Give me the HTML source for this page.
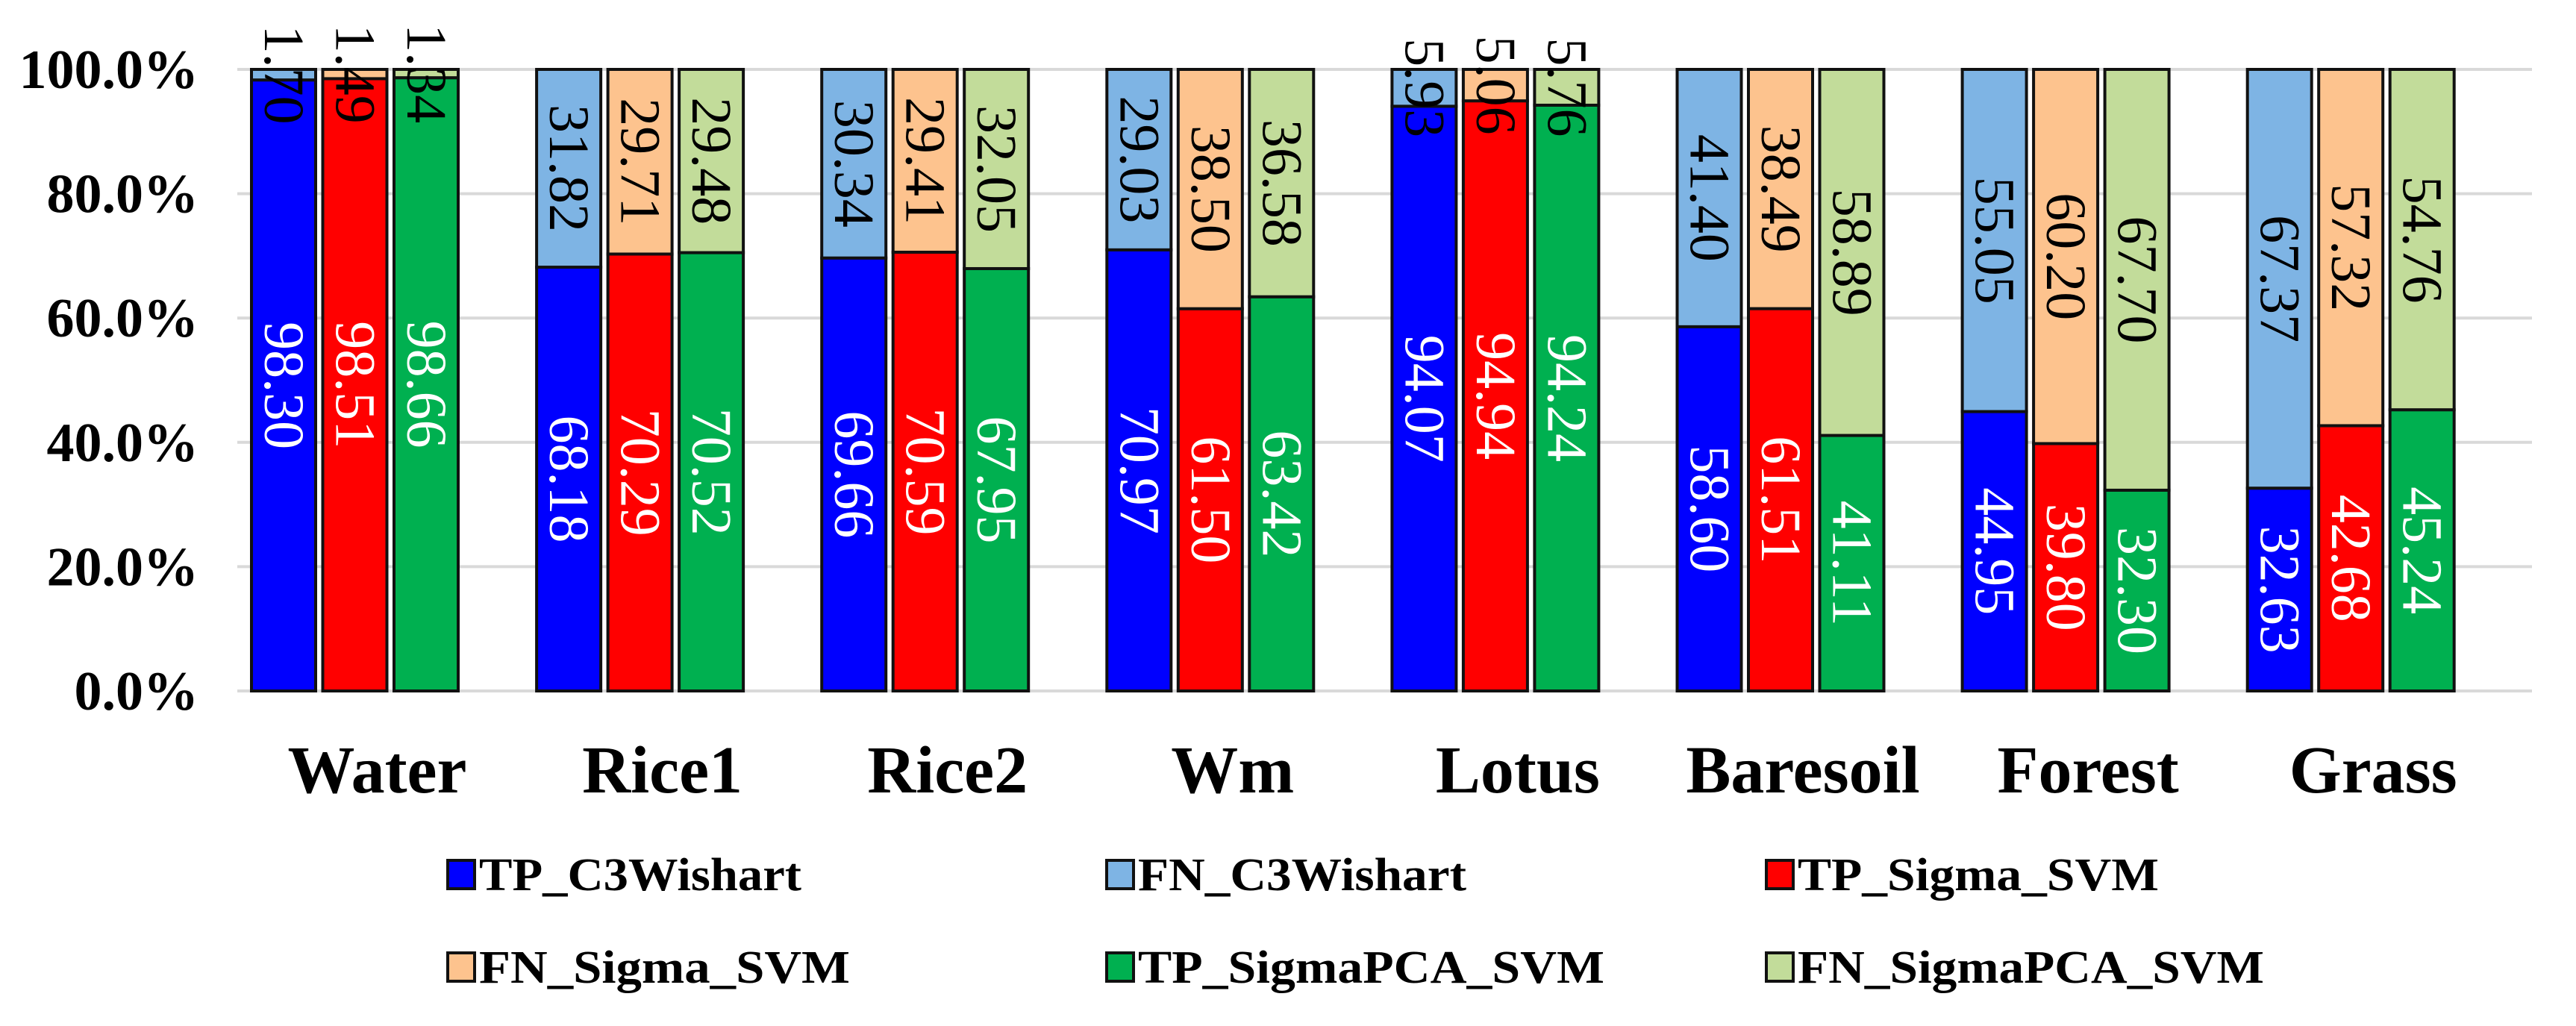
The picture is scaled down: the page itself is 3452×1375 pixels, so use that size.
<!DOCTYPE html>
<html>
<head>
<meta charset="utf-8">
<style>
  html,body{margin:0;padding:0;background:#fff;}
  svg{display:block;}
</style>
</head>
<body>
<svg id="chart" width="3452" height="1375" viewBox="0 0 3452 1375" xmlns="http://www.w3.org/2000/svg"></svg>
<script>
const categories = ["Water","Rice1","Rice2","Wm","Lotus","Baresoil","Forest","Grass"];
const tpC3 = [98.30,68.18,69.66,70.97,94.07,58.60,44.95,32.63];
const fnC3 = [1.70,31.82,30.34,29.03,5.93,41.40,55.05,67.37];
const tpSigma = [98.51,70.29,70.59,61.50,94.94,61.51,39.80,42.68];
const fnSigma = [1.49,29.71,29.41,38.50,5.06,38.49,60.20,57.32];
const tpPCA = [98.66,70.52,67.95,63.42,94.24,41.11,32.30,45.24];
const fnPCA = [1.34,29.48,32.05,36.58,5.76,58.89,67.70,54.76];
const yTicks = [0,20,40,60,80,100];
const tickLabels = ["0.0%","20.0%","40.0%","60.0%","80.0%","100.0%"];
const legendLabels = ["TP_C3Wishart","FN_C3Wishart","TP_Sigma_SVM","FN_Sigma_SVM","TP_SigmaPCA_SVM","FN_SigmaPCA_SVM"];

const NS = "http://www.w3.org/2000/svg";
const svg = document.getElementById("chart");
const Y0 = 926, Y100 = 93;
const y = v => Y0 - (Y100 - Y0) * -v / 100;
const GROUP0 = 337, GROUPSTEP = 382.1, BARW = 86, BARSTEP = 95.5;
const xGroup = i => GROUP0 + i * GROUPSTEP;
const xBar = (i, s) => xGroup(i) + s * BARSTEP;
const serif = '"Liberation Serif", "Times New Roman", serif';

function mk(tag, attrs) {
  const el = document.createElementNS(NS, tag);
  for (const k in attrs) el.setAttribute(k, attrs[k]);
  return el;
}

yTicks.forEach((t, i) => {
  const g = mk("line", {x1: 318, x2: 3393, y1: y(t), y2: y(t), stroke: "#d9d9d9", "stroke-width": 4});
  
  
  svg.appendChild(g);
  const tl = mk("text", {x: 266, y: y(t) + 25, "text-anchor": "end", "font-family": serif, "font-weight": "bold", "font-size": 74, fill: "#000"});
  tl.textContent = tickLabels[i];
  
  
  svg.appendChild(tl);
});

const series = [
  {tp: tpC3, fn: fnC3, tpc: "#0000FF", fnc: "#7EB4E4", tptxt: "#fff"},
  {tp: tpSigma, fn: fnSigma, tpc: "#FF0000", fnc: "#FDC38E", tptxt: "#fff"},
  {tp: tpPCA, fn: fnPCA, tpc: "#00B050", fnc: "#C2DC9A", tptxt: "#fff"}
];

function vlabel(cx, cy, txt, color) {
  const t = mk("text", {x: 0, y: 0, "text-anchor": "middle", "dominant-baseline": "central",
    transform: `translate(${cx},${cy}) rotate(90)`, "font-family": serif, "font-size": 76, fill: color});
  t.textContent = txt;
  
  
  svg.appendChild(t);
}

categories.forEach((c, i) => {
  series.forEach((s, k) => {
    const x = xBar(i, k);
    const tp = s.tp[i], fn = s.fn[i];
    const tpTop = y(tp), fnTop = y(tp + fn);
    const r1 = mk("rect", {x: x, y: tpTop, width: BARW, height: Y0 - tpTop, fill: s.tpc, stroke: "#111", "stroke-width": 4});
    
    
    svg.appendChild(r1);
    const r2 = mk("rect", {x: x, y: fnTop, width: BARW, height: tpTop - fnTop, fill: s.fnc, stroke: "#111", "stroke-width": 4});
    
    
    svg.appendChild(r2);
  });
});
categories.forEach((c, i) => {
  series.forEach((s, k) => {
    const cx = xBar(i, k) + BARW / 2;
    const tp = s.tp[i], fn = s.fn[i];
    vlabel(cx, (y(0) + y(tp)) / 2, tp.toFixed(2), s.tptxt);
    vlabel(cx, (y(tp) + y(tp + fn)) / 2, fn.toFixed(2), "#000");
  });
  const cl = mk("text", {x: xGroup(i) + (2 * BARSTEP + BARW) / 2 + 30, y: 1062, "text-anchor": "middle",
    "font-family": serif, "font-weight": "bold", "font-size": 90, fill: "#000"});
  cl.textContent = c;
  
  
  svg.appendChild(cl);
});

const legColors = ["#0000FF","#7EB4E4","#FF0000","#FDC38E","#00B050","#C2DC9A"];
const legX = [600, 1483, 2367];
const legY = [1193, 1317];
const legW = [432, 440, 484, 497, 625, 625];
legendLabels.forEach((lab, i) => {
  const col = i % 3, row = Math.floor(i / 3);
  const sw = mk("rect", {x: legX[col], y: legY[row] - 40, width: 36, height: 38, fill: legColors[i], stroke: "#111", "stroke-width": 4});
  
  
  svg.appendChild(sw);
  const t = mk("text", {x: legX[col] + 42, y: legY[row], "font-family": serif, "font-weight": "bold", "font-size": 62,
    fill: "#000", textLength: legW[i], lengthAdjust: "spacingAndGlyphs"});
  t.textContent = lab;
  
  
  svg.appendChild(t);
});
</script>
</body>
</html>
